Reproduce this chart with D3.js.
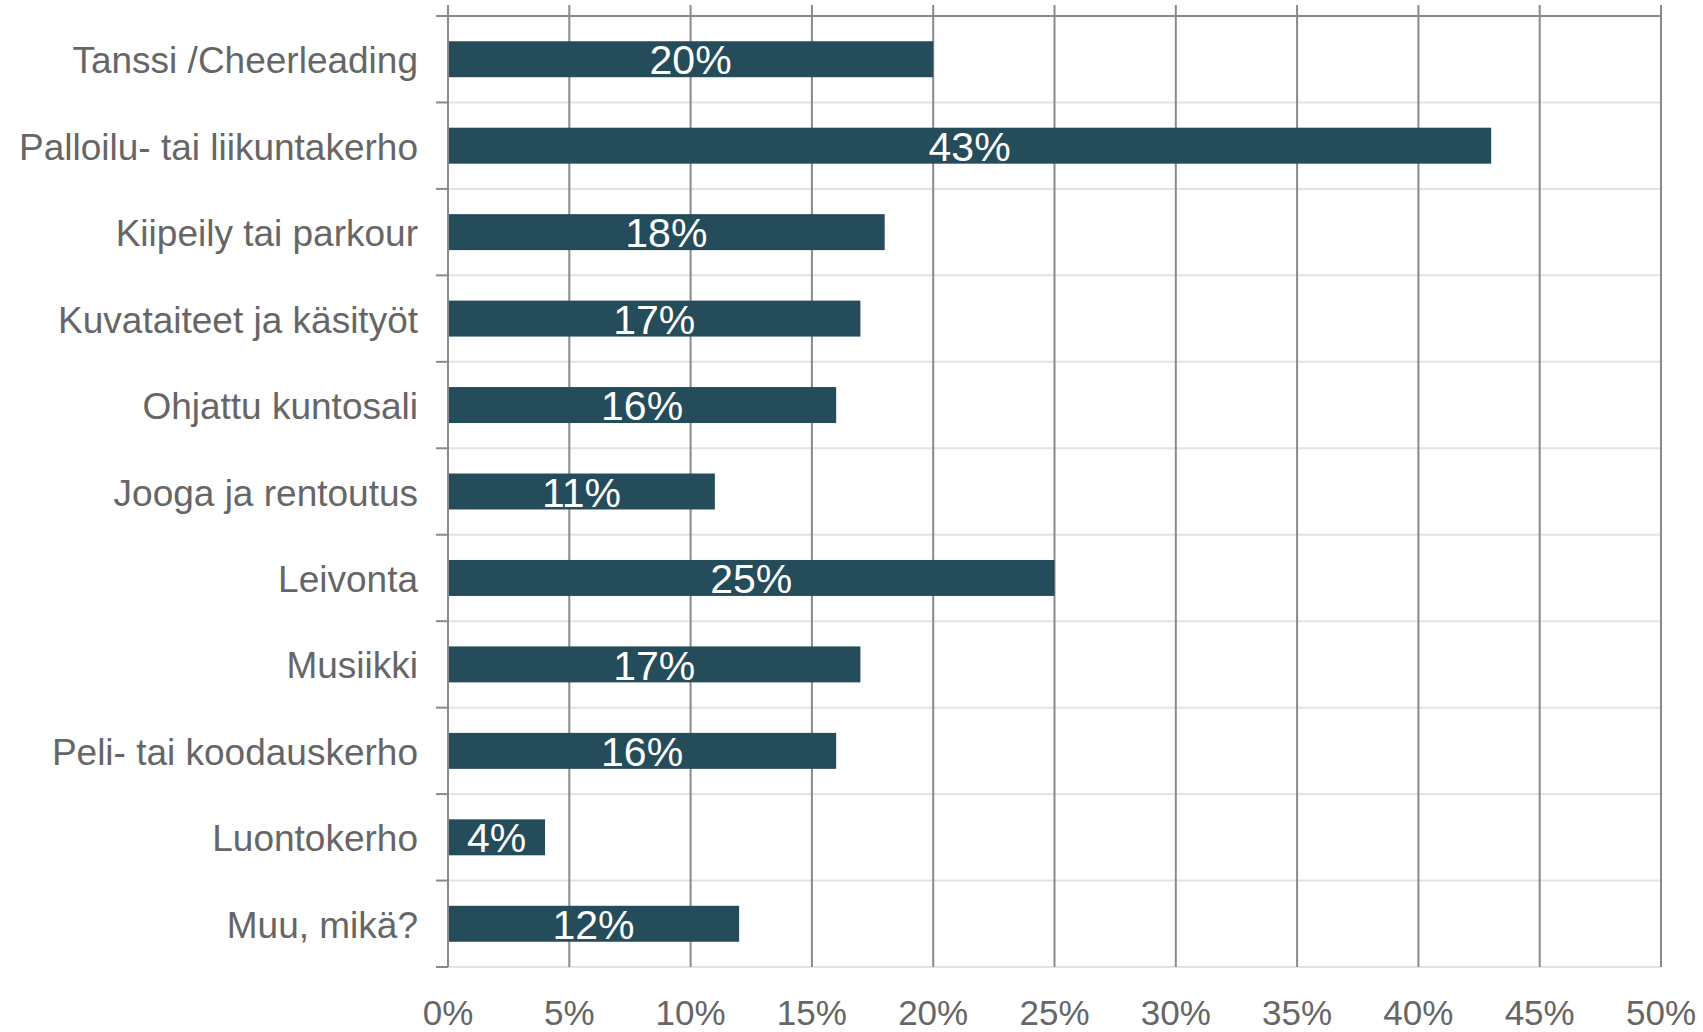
<!DOCTYPE html>
<html>
<head>
<meta charset="utf-8">
<script src="https://cdn.jsdelivr.net/npm/d3@7"></script>
<style>
  body { margin: 0; background: #fff; }
  text { font-family: "Liberation Sans", Arial, sans-serif; }
</style>
</head>
<body>
<div id="chart"></div>
<script>
var categories = ["Tanssi /Cheerleading", "Palloilu- tai liikuntakerho", "Kiipeily tai parkour",
  "Kuvataiteet ja käsityöt", "Ohjattu kuntosali", "Jooga ja rentoutus", "Leivonta",
  "Musiikki", "Peli- tai koodauskerho", "Luontokerho", "Muu, mikä?"];
var values = [20, 43, 18, 17, 16, 11, 25, 17, 16, 4, 12];
var xTicks = [0, 5, 10, 15, 20, 25, 30, 35, 40, 45, 50];

var W = 1703, H = 1032;
var margin = {top: 16, right: 42, bottom: 65, left: 448},
    width = W - margin.left - margin.right,
    height = H - margin.top - margin.bottom;

var svg = d3.select("#chart").append("svg")
    .attr("width", W)
    .attr("height", H);

var g = svg.append("g")
    .attr("transform", "translate(" + margin.left + "," + margin.top + ")");

var x = d3.scaleLinear().domain([0, 50]).range([0, width]);
var y = d3.scaleBand().domain(categories).range([0, height]).paddingInner(0.584).paddingOuter(0.292);

var bandStep = height / categories.length;
var bounds = d3.range(categories.length + 1).map(function(i) { return i * bandStep; });

// horizontal light gridlines
g.selectAll(".hgrid")
    .data(bounds.slice(1))
    .enter().append("line")
    .attr("x1", 0).attr("x2", width)
    .attr("y1", function(d) { return d; }).attr("y2", function(d) { return d; })
    .attr("stroke", "#e3e3e3")
    .attr("stroke-width", 2);

// vertical gridlines (dark)
g.selectAll(".vgrid")
    .data(xTicks)
    .enter().append("line")
    .attr("x1", function(d) { return x(d); }).attr("x2", function(d) { return x(d); })
    .attr("y1", -11).attr("y2", height)
    .attr("stroke", "#8a8a8a")
    .attr("stroke-width", 2);

// top axis line
g.append("line")
    .attr("x1", -12).attr("x2", width)
    .attr("y1", 0).attr("y2", 0)
    .attr("stroke", "#8a8a8a")
    .attr("stroke-width", 2);

// category tick marks
g.selectAll(".ctick")
    .data(bounds)
    .enter().append("line")
    .attr("x1", -12).attr("x2", 0)
    .attr("y1", function(d) { return d; }).attr("y2", function(d) { return d; })
    .attr("stroke", "#8a8a8a")
    .attr("stroke-width", 2);

// bars
g.selectAll(".bar")
    .data(values)
    .enter().append("rect")
    .attr("class", "bar")
    .attr("x", x(0) + 1)
    .attr("y", function(d, i) { return y(categories[i]); })
    .attr("width", function(d) { return x(d) - x(0) - 1; })
    .attr("height", y.bandwidth())
    .attr("fill", "#244c5a");

// bar value labels
g.selectAll(".val")
    .data(values)
    .enter().append("text")
    .attr("x", function(d) { return x(d / 2); })
    .attr("y", function(d, i) { return y(categories[i]) + y.bandwidth() / 2; })
    .attr("dy", "0.37em")
    .attr("text-anchor", "middle")
    .attr("fill", "#fff")
    .style("font-size", "41px")
    .text(function(d) { return d + "%"; });

// category labels
g.selectAll(".cat")
    .data(categories)
    .enter().append("text")
    .attr("x", -30)
    .attr("y", function(d) { return y(d) + y.bandwidth() / 2; })
    .attr("dy", "0.38em")
    .attr("text-anchor", "end")
    .attr("fill", "#666666")
    .style("font-size", "37px")
    .text(function(d) { return d; });

// x tick labels
g.selectAll(".xt")
    .data(xTicks)
    .enter().append("text")
    .attr("x", function(d) { return x(d); })
    .attr("y", height + 58)
    .attr("text-anchor", "middle")
    .attr("fill", "#666666")
    .style("font-size", "35px")
    .text(function(d) { return d + "%"; });

// left axis line
g.append("line")
    .attr("x1", 0).attr("x2", 0)
    .attr("y1", -11).attr("y2", height)
    .attr("stroke", "#8a8a8a")
    .attr("stroke-width", 2);
</script>
</body>
</html>
